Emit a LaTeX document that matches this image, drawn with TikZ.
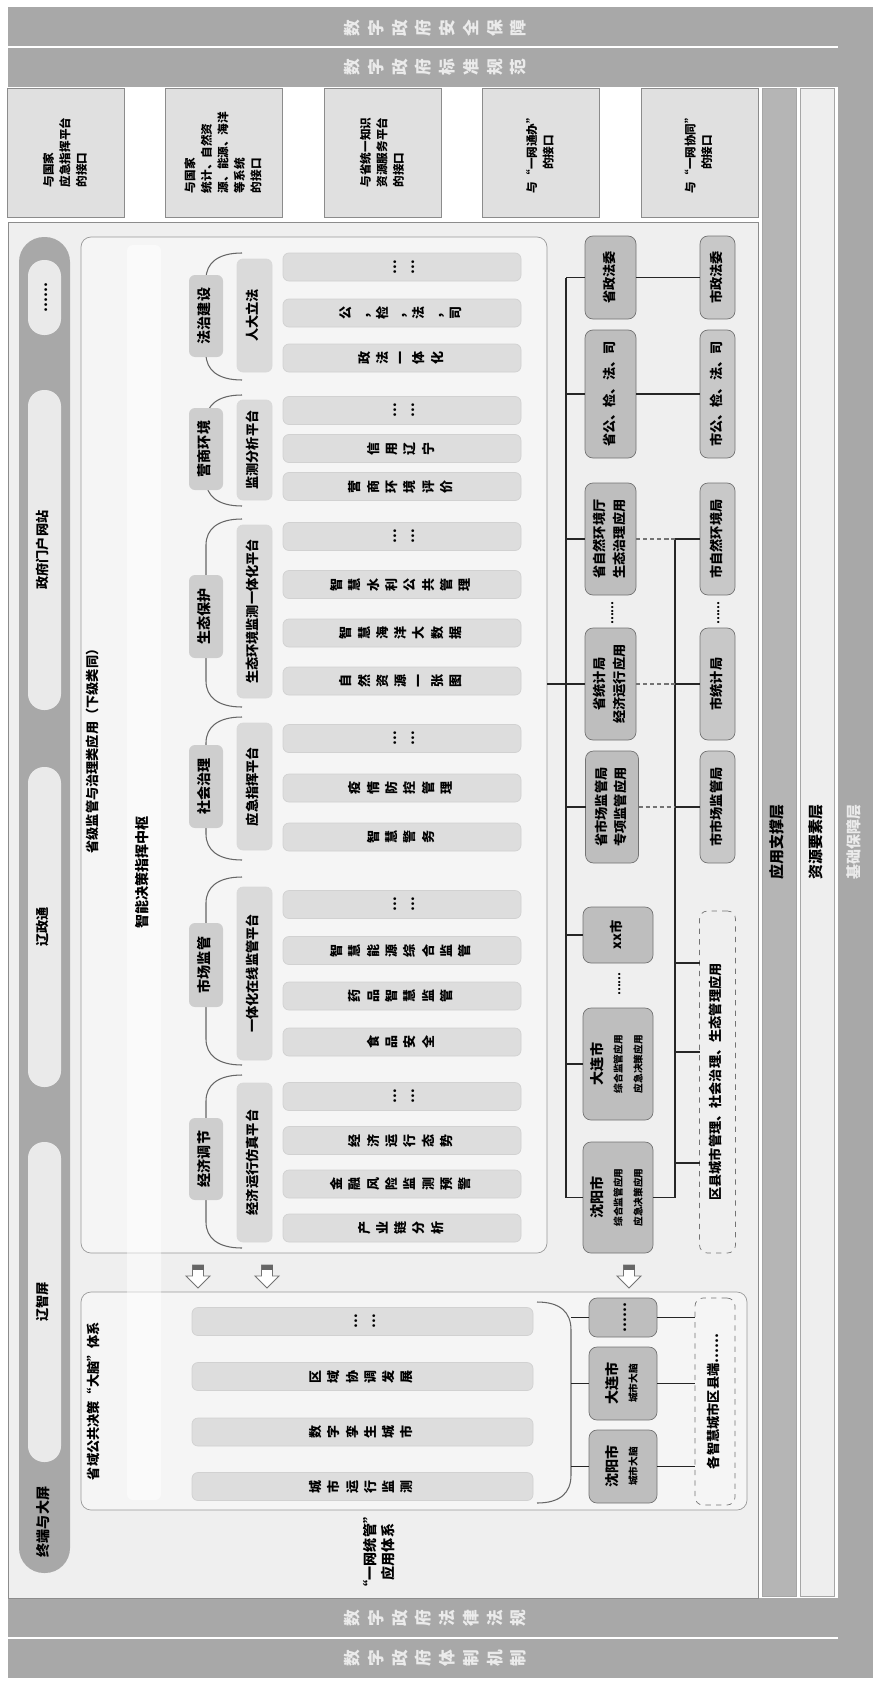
\documentclass[tikz,border=0pt]{standalone}
\usepackage{fontspec}
\setmainfont{Noto Sans CJK SC}
\usepackage{graphicx}
\usetikzlibrary{positioning,calc}
\definecolor{FrameGray}{RGB}{168,168,168}
\definecolor{MainFill}{RGB}{239,239,239}
\definecolor{PanelFill}{RGB}{245,245,245}
\definecolor{IfaceFill}{RGB}{224,224,224}
\definecolor{ItemFill}{RGB}{221,221,221}
\definecolor{LabelFill}{RGB}{206,206,206}
\definecolor{PlatFill}{RGB}{218,218,218}
\definecolor{ProvFill}{RGB}{190,190,190}
\definecolor{CityFill}{RGB}{200,200,200}
\definecolor{TermDark}{RGB}{168,168,168}
\definecolor{TermLight}{RGB}{234,234,234}
\definecolor{StripDark}{RGB}{181,181,181}
\definecolor{StripLight}{RGB}{238,238,238}
\newlength{\pxu}
\setlength{\pxu}{0.02cm}
\newcommand{\rt}[1]{\rotatebox{90}{\begin{tabular}{@{}c@{}}#1\end{tabular}}}
\newcommand{\rtl}[1]{\rotatebox{90}{\begin{tabular}{@{}l@{}}#1\end{tabular}}}
\newcommand{\fsz}[2]{\fontsize{#1}{#2}\selectfont\bfseries}
\newcommand{\grpbrace}[2]{\draw[bracel] (242,#1) .. controls (218,#1) and (206,#1+10) .. (206,#1+26) -- (206,#2-26) .. controls (206,#2-10) and (218,#2) .. (242,#2);}
\tikzset{
  nbase/.style={inner sep=1pt,outer sep=0pt},
  band/.style={nbase,text=white!92!black,font=\fsz{9.5}{13.5}},
  iface/.style={nbase,draw=black!45,fill=IfaceFill,minimum width=117\pxu,minimum height=129\pxu,font=\fsz{6.6}{9.4}},
  layer/.style={nbase,draw=black!35,minimum width=34\pxu,minimum height=1508\pxu,font=\fsz{8.5}{10}},
  termpill/.style={nbase,fill=TermLight,rounded corners=16\pxu,minimum width=33\pxu,font=\fsz{7.5}{9}},
  panel/.style={nbase,draw=black!40,fill=PanelFill,rounded corners=10\pxu},
  ttl/.style={nbase,font=\fsz{7.5}{9}},
  item/.style={nbase,draw=black!18,fill=ItemFill,rounded corners=6\pxu,minimum height=28\pxu,font=\fsz{7.4}{10.4}},
  grp/.style={nbase,fill=LabelFill,rounded corners=6\pxu,minimum width=34\pxu,font=\fsz{8}{9.5}},
  plat/.style={nbase,draw=black!15,fill=PlatFill,rounded corners=6\pxu,minimum width=35\pxu,font=\fsz{7.5}{9}},
  bracel/.style={draw=black!60,line width=0.6pt},
  prov/.style={nbase,draw=black!55,fill=ProvFill,rounded corners=8\pxu,minimum width=51\pxu,font=\fsz{7.5}{11.3}},
  city/.style={nbase,draw=black!55,fill=CityFill,rounded corners=8\pxu,minimum width=35\pxu,font=\fsz{7.5}{11}},
  dashbox/.style={nbase,draw=black!55,dashed,rounded corners=8\pxu,minimum width=36\pxu,font=\fsz{7.5}{9}},
  dotlbl/.style={nbase,font=\fsz{6}{7}},
  link/.style={draw=black!85,line width=0.7pt},
  dlink/.style={draw=black!55,line width=0.7pt,dash pattern=on 2.5pt off 1.5pt},
  hollow/.style={draw=black!55,fill=white,line width=0.5pt},
}

\begin{document}
\begin{tikzpicture}[x=0.02cm,y=-0.02cm]
\useasboundingbox (0,0) rectangle (873,1686);
% outer bands
\fill[FrameGray] (8,7) rectangle (873,1678);
\fill[white] (8,87) rectangle (838,1598);
\draw[white,line width=1pt] (8,47) -- (838,47);
\draw[white,line width=1pt] (8,1638) -- (838,1638);
\node[band] (aqbz) at (437,28) {\rt{数\\字\\政\\府\\安\\全\\保\\障}};
\node[band] (bzgf) at (437,67) {\rt{数\\字\\政\\府\\标\\准\\规\\范}};
\node[band] (flfg) at (437,1618) {\rt{数\\字\\政\\府\\法\\律\\法\\规}};
\node[band] (tzjz) at (437,1658) {\rt{数\\字\\政\\府\\体\\制\\机\\制}};
% layers on the right
\node[layer,fill=StripDark] (yyzc) at (779,842) {\rt{应用支撑层}};
\node[layer,fill=StripLight] (zyys) at (817.5,842) {\rt{资源要素层}};
\node[nbase,text=white!92!black,font=\fsz{8.5}{10}] (jcbz) at (855.5,842) {\rt{基础保障层}};
% interfaces
\node[iface] (if1) at (66,152.5) {\rtl{与国家\\应急指挥平台\\的接口}};
\node[iface] (if2) at (224,152.5) {\rtl{与国家\\统计、自然资\\源、能源、海洋\\等系统\\的接口}};
\node[iface] (if3) at (383,152.5) {\rtl{与省统一知识\\资源服务平台\\的接口}};
\node[iface] (if4) at (541,152.5) {\rt{与“一网通办”\\的接口}};
\node[iface] (if5) at (699.5,152.5) {\rt{与“一网协同”\\的接口}};
% main frame
\draw[draw=black!45,fill=MainFill] (8,222) rectangle (758,1598);
% terminals
\fill[TermDark,rounded corners=25\pxu] (19,237) rectangle (70,1573);
\node[termpill,minimum height=75\pxu] (tdots) at (44.5,297.5) {\rt{……}};
\node[termpill,minimum height=320\pxu] (tweb) at (44.5,550) {\rt{政府门户网站}};
\node[termpill,minimum height=320\pxu] (tlzt) at (44.5,927) {\rt{辽政通}};
\node[termpill,minimum height=320\pxu] (tlzp) at (44.5,1302) {\rt{辽智屏}};
\node[ttl,font=\fsz{8}{9}] (tend) at (44.5,1522) {\rt{终端与大屏}};
% panels
\node[panel,minimum width=466\pxu,minimum height=1016\pxu] (prov) at (314,745) {};
\node[panel,minimum width=666\pxu,minimum height=218\pxu] (brain) at (414,1401) {};
\node[ttl] (provttl) at (94,748) {\rt{省级监管与治理类应用（下级类同）}};
\node[ttl] (brainttl) at (95,1401) {\rt{省域公共决策“大脑”体系}};
% groups
\grpbrace{253}{380}
\node[grp,minimum height=82\pxu] (g1) at (206,316) {\rt{法治建设}};
\node[plat,minimum height=113\pxu] (p1) at (254.5,315.5) {\rt{人大立法}};
\node[item,minimum width=238\pxu] (i11) at (402,267) {\rt{…\\…}};
\node[item,minimum width=238\pxu] (i12) at (402,313) {\rt{公\\，\\检\\，\\法\\，\\司}};
\node[item,minimum width=238\pxu] (i13) at (402,358) {\rt{政\\法\\一\\体\\化}};
\grpbrace{395}{506}
\node[grp,minimum height=82\pxu] (g2) at (206,449) {\rt{营商环境}};
\node[plat,minimum height=100\pxu] (p2) at (254.5,450) {\rt{监测分析平台}};
\node[item,minimum width=238\pxu] (i21) at (402,410.5) {\rt{…\\…}};
\node[item,minimum width=238\pxu] (i22) at (402,448.5) {\rt{信\\用\\辽\\宁}};
\node[item,minimum width=238\pxu] (i23) at (402,486.5) {\rt{营\\商\\环\\境\\评\\价}};
\grpbrace{519}{707}
\node[grp,minimum height=83\pxu] (g3) at (206,616.5) {\rt{生态保护}};
\node[plat,minimum height=173\pxu] (p3) at (254.5,611.5) {\rt{生态环境监测一体化平台}};
\node[item,minimum width=238\pxu] (i31) at (402,536.5) {\rt{…\\…}};
\node[item,minimum width=238\pxu] (i32) at (402,584.5) {\rt{智\\慧\\水\\利\\公\\共\\管\\理}};
\node[item,minimum width=238\pxu] (i33) at (402,633) {\rt{智\\慧\\海\\洋\\大\\数\\据}};
\node[item,minimum width=238\pxu] (i34) at (402,681) {\rt{自\\然\\资\\源\\一\\张\\图}};
\grpbrace{717}{860}
\node[grp,minimum height=83\pxu] (g4) at (206,786.5) {\rt{社会治理}};
\node[plat,minimum height=127\pxu] (p4) at (254.5,786.5) {\rt{应急指挥平台}};
\node[item,minimum width=238\pxu] (i41) at (402,738.5) {\rt{…\\…}};
\node[item,minimum width=238\pxu] (i42) at (402,788) {\rt{疫\\情\\防\\控\\管\\理}};
\node[item,minimum width=238\pxu] (i43) at (402,837) {\rt{智\\慧\\警\\务}};
\grpbrace{877}{1065}
\node[grp,minimum height=84\pxu] (g5) at (206,965) {\rt{市场监管}};
\node[plat,minimum height=173\pxu] (p5) at (254.5,973.5) {\rt{一体化在线监管平台}};
\node[item,minimum width=238\pxu] (i51) at (402,904.5) {\rt{…\\…}};
\node[item,minimum width=238\pxu] (i52) at (402,950.5) {\rt{智\\慧\\能\\源\\综\\合\\监\\管}};
\node[item,minimum width=238\pxu] (i53) at (402,996) {\rt{药\\品\\智\\慧\\监\\管}};
\node[item,minimum width=238\pxu] (i54) at (402,1042) {\rt{食\\品\\安\\全}};
\grpbrace{1075}{1248}
\node[grp,minimum height=82\pxu] (g6) at (206,1159) {\rt{经济调节}};
\node[plat,minimum height=159\pxu] (p6) at (254.5,1162.5) {\rt{经济运行仿真平台}};
\node[item,minimum width=238\pxu] (i61) at (402,1096.5) {\rt{…\\…}};
\node[item,minimum width=238\pxu] (i62) at (402,1140.5) {\rt{经\\济\\运\\行\\态\\势}};
\node[item,minimum width=238\pxu] (i63) at (402,1184) {\rt{金\\融\\风\\险\\监\\测\\预\\警}};
\node[item,minimum width=238\pxu] (i64) at (402,1228) {\rt{产\\业\\链\\分\\析}};
% brain items
\node[item,minimum width=341\pxu] (b1) at (362.5,1321.5) {\rt{…\\…}};
\node[item,minimum width=341\pxu] (b2) at (362.5,1376.5) {\rt{区\\域\\协\\调\\发\\展}};
\node[item,minimum width=341\pxu] (b3) at (362.5,1432) {\rt{数\\字\\孪\\生\\城\\市}};
\node[item,minimum width=341\pxu] (b4) at (362.5,1486.5) {\rt{城\\市\\运\\行\\监\\测}};
\draw[bracel] (537,1302) .. controls (560,1302) and (571,1312) .. (571,1330) -- (571,1475) .. controls (571,1493) and (560,1503) .. (537,1503);
% decision strip
\node[nbase,fill=white,fill opacity=0.5,text opacity=1,rounded corners=6\pxu,minimum width=34\pxu,minimum height=1255\pxu,font=\fsz{8}{9}] (znjc) at (144,872.5) {\rt{智能决策指挥中枢}};
% arrows
\foreach \ax in {198,267,629}{
  \draw[hollow] (\ax-5.5,1265) -- (\ax+5.5,1265) -- (\ax+5.5,1276) -- (\ax+12,1276) -- (\ax,1288) -- (\ax-12,1276) -- (\ax-5.5,1276) -- cycle;
  \fill[black!60] (\ax-5.5,1265) rectangle (\ax+5.5,1270);
}
% province column
\node[prov,minimum height=83\pxu] (pzfw) at (610.5,277.5) {\rt{省政法委}};
\node[prov,minimum height=128\pxu] (pgjfs) at (610.5,394) {\rt{省公、检、法、司}};
\node[prov,minimum height=112\pxu] (pzrj) at (610.5,539) {\rt{省自然环境厅\\生态治理应用}};
\node[dotlbl] (pdots1) at (611,613) {\rt{……}};
\node[prov,minimum height=112\pxu] (ptjj) at (610.5,684) {\rt{省统计局\\经济运行应用}};
\node[prov,minimum width=53\pxu,minimum height=112\pxu] (pscj) at (612,807) {\rt{省市场监管局\\专项监管应用}};
\node[prov,minimum width=70\pxu,minimum height=56\pxu] (pxx) at (618,935) {\rt{xx市}};
\node[dotlbl] (pdots2) at (618,984) {\rt{……}};
\node[prov,minimum width=70\pxu,minimum height=112\pxu] (pdl) at (618,1064) {\rotatebox{90}{\begin{tabular}{@{}c@{}}\fsz{8}{10}大连市\\\fsz{5.5}{7.5}综合监管应用\\\fsz{5.5}{7.5}应急决策应用\end{tabular}}};
\node[prov,minimum width=70\pxu,minimum height=111\pxu] (psy) at (618,1197.5) {\rotatebox{90}{\begin{tabular}{@{}c@{}}\fsz{8}{10}沈阳市\\\fsz{5.5}{7.5}综合监管应用\\\fsz{5.5}{7.5}应急决策应用\end{tabular}}};
% city column
\node[city,minimum height=83\pxu] (czfw) at (717.5,277.5) {\rt{市政法委}};
\node[city,minimum height=128\pxu] (cgjfs) at (717.5,394) {\rt{市公、检、法、司}};
\node[city,minimum height=112\pxu] (czrj) at (717.5,539) {\rt{市自然环境局}};
\node[dotlbl] (cdots) at (717,613) {\rt{……}};
\node[city,minimum height=112\pxu] (ctjj) at (717.5,684) {\rt{市统计局}};
\node[city,minimum height=112\pxu] (cscj) at (717.5,807) {\rt{市市场监管局}};
\node[dashbox,minimum height=342\pxu] (cqx) at (717.5,1082) {\rt{区县城市管理、社会治理、生态管理应用}};
% brain column
\node[prov,minimum width=68\pxu,minimum height=39\pxu] (bdots) at (623,1317.5) {\rt{……}};
\node[prov,minimum width=68\pxu,minimum height=73\pxu] (bdl) at (623,1383.5) {\rotatebox{90}{\begin{tabular}{@{}c@{}}\fsz{8}{10}大连市\\\fsz{5.5}{7.5}城市大脑\end{tabular}}};
\node[prov,minimum width=68\pxu,minimum height=73\pxu] (bsy) at (623,1466.5) {\rotatebox{90}{\begin{tabular}{@{}c@{}}\fsz{8}{10}沈阳市\\\fsz{5.5}{7.5}城市大脑\end{tabular}}};
\node[dashbox,minimum width=40\pxu,minimum height=207\pxu] (bqx) at (715,1401.5) {\rt{各智慧城市区县端……}};
\node[ttl,font=\fsz{8}{10}] (ywtg) at (381,1552) {\rt{“一网统管”\\应用体系}};
% connectors
\coordinate (trtop) at (566,277.5);
\coordinate (trbot) at (566,1197.5);
\coordinate (ctop) at (675,539);
\coordinate (cbot) at (675,1197.5);
\draw[link] (trtop) -- (trbot);
\draw[link] (ctop) -- (cbot);
\draw[link] (prov.east |- ptjj.west) -- (ptjj.west);
\foreach \pn in {pzfw,pgjfs,pzrj,pscj,pxx,pdl,psy}
  \draw[link] (\pn.west -| trtop) -- (\pn.west);
\draw[link] (pzfw.east) -- (czfw.west);
\draw[link] (pgjfs.east) -- (cgjfs.west);
\draw[dlink] (pzrj.east) -- (pzrj.east -| ctop);
\draw[link] (pzrj.east -| ctop) -- (czrj.west);
\draw[dlink] (ptjj.east) -- (ptjj.east -| ctop);
\draw[link] (ptjj.east -| ctop) -- (ctjj.west);
\draw[dlink] (pscj.east) -- (pscj.east -| ctop);
\draw[link] (pscj.east -| ctop) -- (cscj.west);
\draw[link] (psy.east) -- (cbot);
\coordinate (q1) at (675,963);
\coordinate (q2) at (675,1052);
\coordinate (q3) at (675,1163);
\draw[link] (q1) -- (q1 -| cqx.west);
\draw[link] (q2) -- (q2 -| cqx.west);
\draw[link] (q3) -- (q3 -| cqx.west);
\coordinate (bx) at (571,1400);
\foreach \bn in {bdots,bdl,bsy}{
  \draw[link] (\bn.west -| bx) -- (\bn.west);
  \draw[link] (\bn.east) -- (\bn.east -| bqx.west);
}
\end{tikzpicture}
\end{document}
